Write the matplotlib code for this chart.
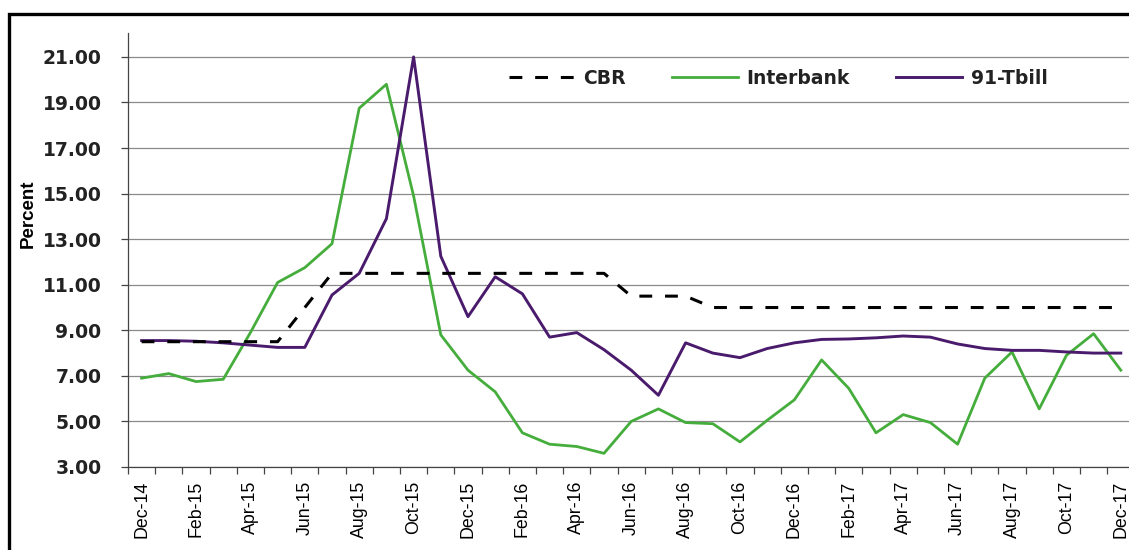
import numpy as np
import pandas as pd
import matplotlib
matplotlib.use('Agg')
import matplotlib.pyplot as plt
from matplotlib.patches import Rectangle
from matplotlib.ticker import FixedLocator

# ── data ──────────────────────────────────────────────────────
months = pd.date_range("2014-12-01", periods=37, freq="MS").strftime("%b-%y").tolist()

cbr = [8.5, 8.5, 8.5, 8.5, 8.5, 8.5, 10.0, 11.5, 11.5, 11.5, 11.5, 11.5, 11.5,
       11.5, 11.5, 11.5, 11.5, 11.5, 10.5, 10.5, 10.5, 10.0, 10.0, 10.0, 10.0,
       10.0, 10.0, 10.0, 10.0, 10.0, 10.0, 10.0, 10.0, 10.0, 10.0, 10.0, 10.0]

interbank = [6.9, 7.1, 6.75, 6.85, 8.9, 11.1, 11.75, 12.8, 18.75, 19.8, 14.9,
             8.8, 7.25, 6.3, 4.5, 4.0, 3.9, 3.6, 5.0, 5.55, 4.95, 4.9, 4.1,
             5.05, 5.95, 7.7, 6.45, 4.5, 5.3, 4.95, 4.0, 6.9, 8.05, 5.55, 7.9,
             8.85, 7.25]

tbill = [8.55, 8.55, 8.52, 8.45, 8.35, 8.25, 8.25, 10.55, 11.5, 13.9, 21.0,
         12.25, 9.6, 11.35, 10.6, 8.7, 8.9, 8.15, 7.25, 6.15, 8.45, 8.0, 7.8,
         8.2, 8.45, 8.6, 8.62, 8.67, 8.75, 8.7, 8.4, 8.2, 8.12, 8.12, 8.05,
         8.0, 8.0]

yticks = [3, 5, 7, 9, 11, 13, 15, 17, 19, 21]

# ── figure ────────────────────────────────────────────────────
W, H = 1129, 550
fig = plt.figure(figsize=(W / 100, H / 100), dpi=100)
left, right, bottom, top = 128, 1134.4, 467, 33
ax = fig.add_axes([left / W, 1 - bottom / H, (right - left) / W, (bottom - top) / H])

x = np.arange(len(months))
l_ib, = ax.plot(x, interbank, color="#45ad3c", lw=2.0, zorder=3, label="Interbank")
l_tb, = ax.plot(x, tbill, color="#4a1b6c", lw=2.1, zorder=4, label="91-Tbill")
l_cb, = ax.plot(x, cbr, color="black", lw=2.2, zorder=5, label="CBR",
                dashes=(4.2, 4.2))

ax.set_xlim(-0.5, len(months) - 0.5)
ax.set_ylim(3, 22.05)
ax.set_yticks(yticks)
ax.set_yticklabels([f"{v:.2f}" for v in yticks])
ax.yaxis.grid(True, color="#8a8a8a", lw=0.9)
ax.set_axisbelow(True)

ax.set_xticks(x[::2])
ax.set_xticklabels(months[::2], rotation=90, family="Liberation Sans", fontsize=12.8)
ax.xaxis.set_minor_locator(FixedLocator(np.arange(-0.5, len(months), 1)))
ax.tick_params(axis="x", which="major", length=0, pad=10)
ax.tick_params(axis="x", which="minor", length=5, width=0.9, color="#444444")
ax.tick_params(axis="y", length=5, width=0.9, color="#444444", pad=14)
for lab in ax.get_yticklabels():
    lab.set_fontweight("bold")
    lab.set_fontsize(13.5)
    lab.set_color("#222222")

for s in ["top", "right"]:
    ax.spines[s].set_visible(False)
for s in ["left", "bottom"]:
    ax.spines[s].set_color("#444444")
    ax.spines[s].set_linewidth(0.9)

fig.text(28 / W, 1 - 214 / H, "Percent", rotation=90, ha="center", va="center",
         family="Liberation Sans", fontweight="bold", fontsize=13.5)

leg = ax.legend(handles=[l_cb, l_ib, l_tb], loc="center", ncol=3, frameon=False,
                bbox_to_anchor=(778 / W, 1 - 78 / H), bbox_transform=fig.transFigure,
                handlelength=3.5, handletextpad=0.45, columnspacing=2.5,
                prop={"weight": "bold", "size": 13.5})
for t in leg.get_texts():
    t.set_color("#222222")

# outer frame (cut off at right and bottom like the scan)
fig.patches.append(Rectangle((9 / W, -0.1), 1.2, 1 - 14 / H + 0.1,
                             transform=fig.transFigure, fill=False,
                             lw=2.4, edgecolor="black", zorder=10))

fig.savefig("out.png", dpi=100)
